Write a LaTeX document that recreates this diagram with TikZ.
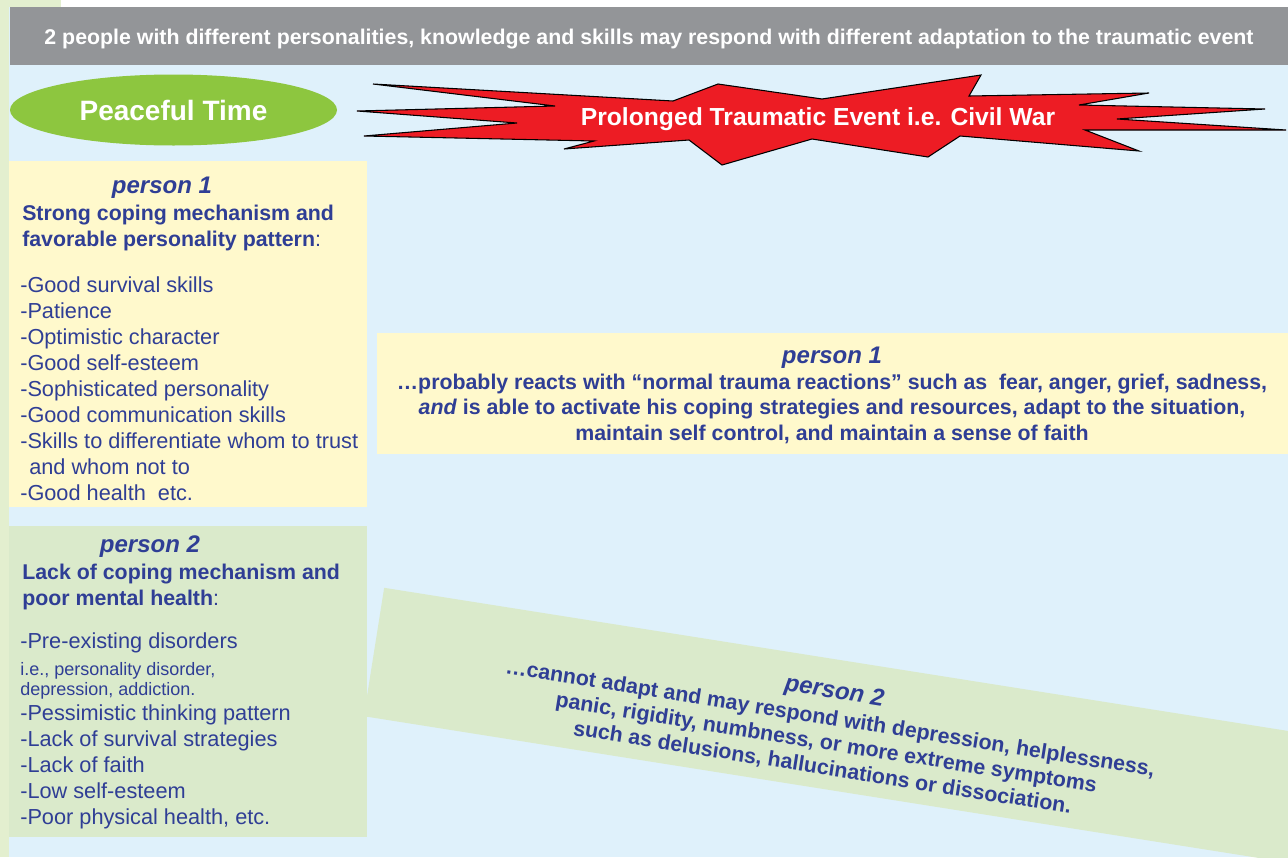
\documentclass[tikz,border=0pt]{standalone}
\usepackage{fontspec}
\setmainfont{Liberation Sans}
\usetikzlibrary{shapes.geometric}

\definecolor{skyBack}{HTML}{DFF1FB}
\definecolor{stripGreen}{HTML}{E3EFCF}
\definecolor{bannerGray}{HTML}{939598}
\definecolor{peaceGreen}{HTML}{8DC63F}
\definecolor{warRed}{HTML}{ED1C24}
\definecolor{paleYellow}{HTML}{FFF9CC}
\definecolor{paleGreen}{HTML}{DAEACB}
\definecolor{inkBlue}{HTML}{2F3E95}

\begin{document}
\begin{tikzpicture}
[x=0.75pt,y=-0.75pt,
  textDecorate/.style={text=inkBlue,inner sep=0pt,anchor=base west,font=\fontsize{16.3}{19.5}\selectfont},
  smallDecorate/.style={text=inkBlue,inner sep=0pt,anchor=base west,font=\fontsize{13.5}{16}\selectfont},
  boldDecorate/.style={text=inkBlue,inner sep=0pt,anchor=base west,font=\fontsize{16}{19.5}\selectfont\bfseries},
  headDecorate/.style={text=inkBlue,inner sep=0pt,anchor=base,font=\fontsize{18}{22}\selectfont\bfseries\itshape},
  lineDecorate/.style={text=inkBlue,inner sep=0pt,anchor=base,font=\fontsize{16}{19.5}\selectfont\bfseries}]
%% page and background
\clip (0,0) rectangle (1288,857);
\fill[white] (0,0) rectangle (1288,857);
\fill[skyBack] (9,7) rectangle (1288,857);
\fill[stripGreen] (0,0) rectangle (9,857);
\fill[stripGreen] (0,0) rectangle (61,7);
%% banner
\fill[bannerGray] (10,7) rectangle (1288,65);
\node (banner) at (649,44) [anchor=base,inner sep=0pt,text=white,font=\fontsize{16}{19.5}\selectfont\bfseries]
  {2 people with different personalities, knowledge and skills may respond with different adaptation to the traumatic event};
%% peaceful time
\node (peace) at (173.5,110) [ellipse,fill=peaceGreen,minimum width=245.25pt,minimum height=53.25pt,inner sep=0pt,
  text=white,font=\fontsize{21}{25}\selectfont\bfseries] {Peaceful Time};
%% starburst
\filldraw[fill=warRed,draw=black,line width=0.8pt,line join=miter]
  (373,84) -- (673,101) -- (718,84) -- (822,99) -- (981,75) -- (969,96) -- (1149,93) -- (1079,105)
  -- (1265,109) -- (1117,119) -- (1286,130) -- (1085,130) -- (1139,151) -- (960,136) -- (928,157)
  -- (812,139) -- (722,165) -- (689,140) -- (564,149) -- (594,141) -- (364,136) -- (517,123)
  -- (357,111) -- (555,106) -- cycle;
\node (war) at (818,125) [anchor=base,inner sep=0pt,text=white,font=\fontsize{18.5}{22}\selectfont\bfseries]
  {Prolonged Traumatic Event i.e. Civil War};
%% person 1, left box
\fill[paleYellow] (9,161) rectangle (367,507);
\node (headA) at (162,193) [headDecorate] {person 1};
\node (titleA) at (22,220) [boldDecorate] {Strong coping mechanism and};
\node (titleB) at (22,246) [boldDecorate] {favorable personality pattern{\mdseries:}};
\foreach \nodename/\x/\y/\txt in {
  skillA/20/292/{-Good survival skills}, skillB/20/318/{-Patience},
  skillC/20/344/{-Optimistic character}, skillD/20/370/{-Good self-esteem},
  skillE/20/396/{-Sophisticated personality}, skillF/20/422/{-Good communication skills},
  skillG/20/448/{-Skills to differentiate whom to trust}, skillH/29/474/{and whom not to},
  skillI/20/500/{-Good health~ etc.}}
{
  \node (\nodename) at (\x,\y) [textDecorate] {\txt};
}
%% person 2, left box
\fill[paleGreen] (9,526) rectangle (367,837);
\node (headB) at (150,552) [headDecorate] {person 2};
\node (titleC) at (22,579) [boldDecorate] {Lack of coping mechanism and};
\node (titleD) at (22,605) [boldDecorate] {poor mental health{\mdseries:}};
\node (lackA) at (20,648) [textDecorate] {-Pre-existing disorders};
\node (lackB) at (20,675) [smallDecorate] {i.e., personality disorder,};
\node (lackC) at (20,695) [smallDecorate] {depression, addiction.};
\foreach \nodename/\y/\txt in {
  lackD/720/{-Pessimistic thinking pattern}, lackE/746/{-Lack of survival strategies},
  lackF/772/{-Lack of faith}, lackG/798/{-Low self-esteem},
  lackH/824/{-Poor physical health, etc.}}
{
  \node (\nodename) at (20,\y) [textDecorate] {\txt};
}
%% person 1, reaction
\fill[paleYellow] (377,333) rectangle (1288,454);
\node (reactHead) at (832,363) [headDecorate] {person 1};
\node (reactA) at (832,389) [lineDecorate] {…probably reacts with “normal trauma reactions” such as~ fear, anger, grief, sadness,};
\node (reactB) at (832,414.5) [lineDecorate] {\textit{and} is able to activate his coping strategies and resources, adapt to the situation,};
\node (reactC) at (832,440) [lineDecorate] {maintain self control, and maintain a sense of faith};
%% person 2, reaction
\fill[paleGreen,rotate around={-9:(374,652)}] (374,587) rectangle (1500,717);
\begin{scope}[rotate around={-9:(829,726)},transform shape]
\node (failHead) at (829,698) [headDecorate] {person 2};
\node (failA) at (829,725) [lineDecorate] {…cannot adapt and may respond with depression, helplessness,};
\node (failB) at (829,750) [lineDecorate] {panic, rigidity, numbness, or more extreme symptoms};
\node (failC) at (829,775) [lineDecorate] {such as delusions, hallucinations or dissociation.};
\end{scope}
\end{tikzpicture}
\end{document}
